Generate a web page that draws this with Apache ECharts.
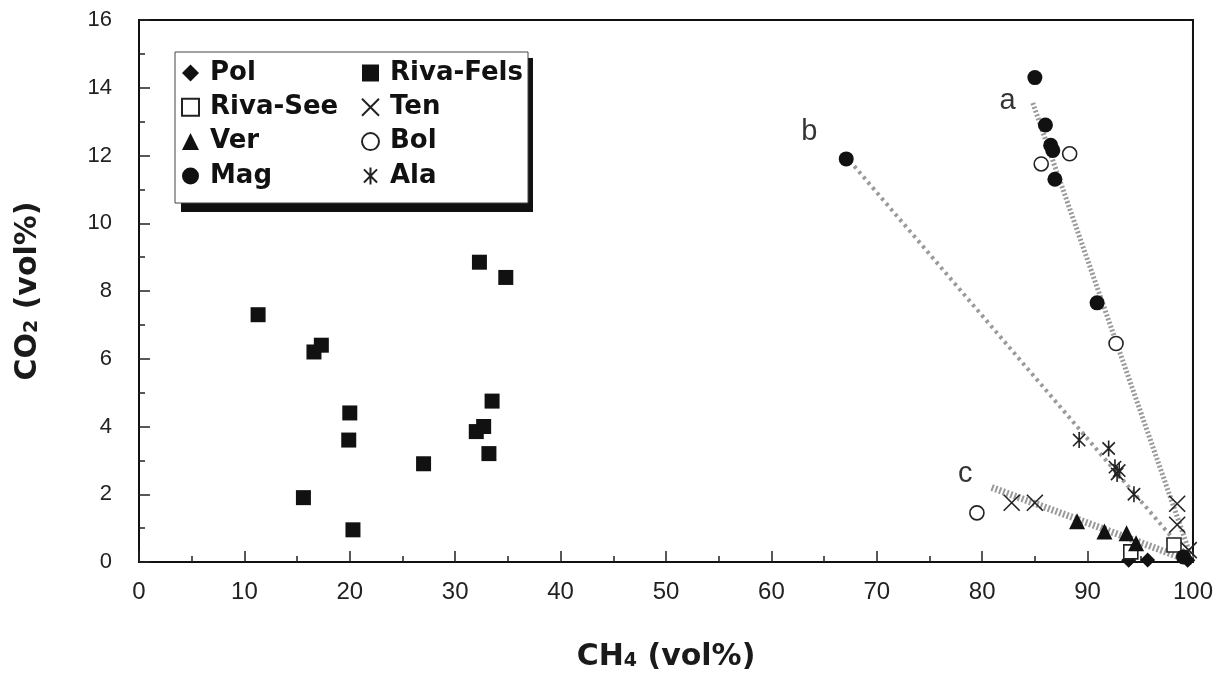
<!DOCTYPE html>
<html>
<head>
<meta charset="utf-8">
<script src="https://cdn.jsdelivr.net/npm/echarts@6/dist/echarts.min.js"></script>
<style>
  html, body { margin: 0; padding: 0; background: #fff; }
  #chart { width: 1216px; height: 677px; }
</style>
</head>
<body>
<div id="chart"></div>
<script>
// CH4 (vol%) vs CO2 (vol%) per locality
const pol = [[93.9, 0.05], [95.7, 0.06], [99.5, 0.05]]
const rivaFels = [[11.3, 7.3], [16.6, 6.2], [17.3, 6.4], [20.0, 4.4], [19.9, 3.6], [15.6, 1.9], [20.3, 0.95],
  [27.0, 2.9], [32.3, 8.85], [34.8, 8.4], [32.0, 3.85], [32.7, 4.0], [33.5, 4.75], [33.2, 3.2]]
const rivaSee = [[94.1, 0.3], [98.2, 0.5]]
const ten = [[82.8, 1.75], [85.0, 1.75], [98.5, 1.72], [98.5, 1.1], [99.6, 0.35]]
const ver = [[89.0, 1.2], [91.6, 0.9], [93.7, 0.85], [94.6, 0.55]]
const bol = [[85.6, 11.75], [88.3, 12.05], [92.7, 6.45], [79.5, 1.45]]
const mag = [[85.0, 14.3], [67.1, 11.9], [86.0, 12.9], [86.5, 12.3], [86.7, 12.15], [86.9, 11.3], [90.9, 7.65], [99.1, 0.15]]
const ala = [[89.2, 3.6], [92.0, 3.35], [92.6, 2.8], [92.8, 2.6], [93.0, 2.7], [94.4, 2.0]]

// mixing trends
const lineA = [[84.8, 13.55], [100, 0]]
const lineB = [[67.0, 12.0], [100, 0]]
const lineC = [[80.9, 2.2], [100, 0]]
const notes = [[82.4, 13.6, 'a'], [63.6, 12.7, 'b'], [78.4, 2.6, 'c']]

const xTicks = [0, 10, 20, 30, 40, 50, 60, 70, 80, 90, 100]
const yTicks = [0, 2, 4, 6, 8, 10, 12, 14, 16]

const XSYM = 'path://M0,0L10,10M10,0L0,10'
const ASYM = 'path://M0,0L10,10M10,0L0,10M5,-1.5L5,11.5'

const chart = echarts.init(document.getElementById('chart'))

function pts(name, data, symbol, size, filled) {
  return {
    name: name,
    type: 'scatter',
    data: data,
    symbol: symbol,
    symbolSize: size,
    symbolKeepAspect: true,
    z: 5,
    itemStyle: filled
      ? { color: '#111', borderColor: '#111', borderWidth: 0, opacity: 1 }
      : { color: symbol.indexOf('path') === 0 ? 'rgba(0,0,0,0)' : '#fff', borderColor: '#222', borderWidth: 1.6, opacity: 1 }
  }
}

function trend(data, width, dash) {
  return {
    type: 'line',
    data: data,
    symbol: 'none',
    silent: true,
    z: 2,
    lineStyle: { color: '#9a9a9a', width: width, type: dash }
  }
}

const legendText = { fontFamily: "'DejaVu Sans'", fontSize: 26, fontWeight: 'bold', color: '#111', lineHeight: 26, padding: [0, 0, 0, 6] }
const nameRich = {
  n: { fontFamily: "'DejaVu Sans'", fontSize: 30, fontWeight: 'bold', color: '#1a1a1a' },
  s: { fontFamily: "'DejaVu Sans'", fontSize: 19, fontWeight: 'bold', color: '#1a1a1a', padding: [9, 0, 0, 0] }
}

chart.setOption({
  animation: false,
  textStyle: { fontFamily: "'Liberation Sans', Arial, sans-serif" },
  grid: { left: 139, right: 18, top: 20, bottom: 115, show: true, borderColor: '#111', borderWidth: 2 },
  graphic: [
    { type: 'rect', shape: { x: 181, y: 58, width: 352, height: 154 }, style: { fill: '#111' }, z: 1 },
    { type: 'rect', shape: { x: 175, y: 52, width: 353, height: 151 }, style: { fill: '#fff', stroke: '#444', lineWidth: 1 }, z: 2 }
  ],
  legend: [
    {
      data: ['Pol', 'Riva-See', 'Ver', 'Mag'],
      orient: 'vertical', left: 181, top: 60, itemGap: 8.3, itemWidth: 17, itemHeight: 17,
      padding: 0, z: 10, textStyle: legendText
    },
    {
      data: ['Riva-Fels', 'Ten', 'Bol', 'Ala'],
      orient: 'vertical', left: 361, top: 60, itemGap: 8.3, itemWidth: 17, itemHeight: 17,
      padding: 0, z: 10, textStyle: legendText
    }
  ],
  xAxis: {
    type: 'value', min: 0, max: 100, interval: 10,
    name: '{n|CH}{s|4}{n| (vol%)}', nameLocation: 'middle', nameGap: 80,
    nameTextStyle: { rich: nameRich },
    axisLine: { lineStyle: { color: '#111', width: 2 } },
    axisTick: { inside: true, length: 11, lineStyle: { color: '#222', width: 1.5 } },
    minorTick: { show: true, splitNumber: 2, length: 6, lineStyle: { color: '#222', width: 1.5 } },
    splitLine: { show: false },
    axisLabel: { fontFamily: "'Liberation Sans Narrow', 'Liberation Sans', sans-serif", fontSize: 24, color: '#222', margin: 18,
      formatter: v => xTicks.indexOf(v) >= 0 ? String(v) : '' }
  },
  yAxis: {
    type: 'value', min: 0, max: 16, interval: 2,
    name: '{n|CO}{s|2}{n| (vol%)}', nameLocation: 'middle', nameGap: 96,
    nameTextStyle: { rich: nameRich },
    axisLine: { lineStyle: { color: '#111', width: 2 } },
    axisTick: { inside: true, length: 11, lineStyle: { color: '#222', width: 1.5 } },
    minorTick: { show: true, splitNumber: 2, length: 6, lineStyle: { color: '#222', width: 1.5 } },
    splitLine: { show: false },
    axisLabel: { fontFamily: "'Liberation Sans', Arial, sans-serif", fontSize: 22, color: '#222', margin: 27,
      formatter: v => yTicks.indexOf(v) >= 0 ? String(v) : '' }
  },
  series: [
    trend(lineA, 5, [2, 2]),
    trend(lineB, 4, [3, 4]),
    trend(lineC, 7, [2, 2]),
    {
      type: 'scatter', silent: true, symbolSize: 0, z: 6,
      data: notes.map(n => ({ value: [n[0], n[1]], label: { formatter: n[2] } })),
      label: { show: true, position: 'inside', fontSize: 29, color: '#000', fontFamily: "'Liberation Sans'" }
    },
    pts('Pol', pol, 'diamond', 15, true),
    pts('Riva-Fels', rivaFels, 'rect', 15, true),
    pts('Riva-See', rivaSee, 'rect', 14, false),
    pts('Ten', ten, XSYM, 16, false),
    pts('Ver', ver, 'triangle', 16, true),
    pts('Bol', bol, 'circle', 14, false),
    pts('Mag', mag, 'circle', 15, true),
    pts('Ala', ala, ASYM, 16, false)
  ]
})
</script>
</body>
</html>
